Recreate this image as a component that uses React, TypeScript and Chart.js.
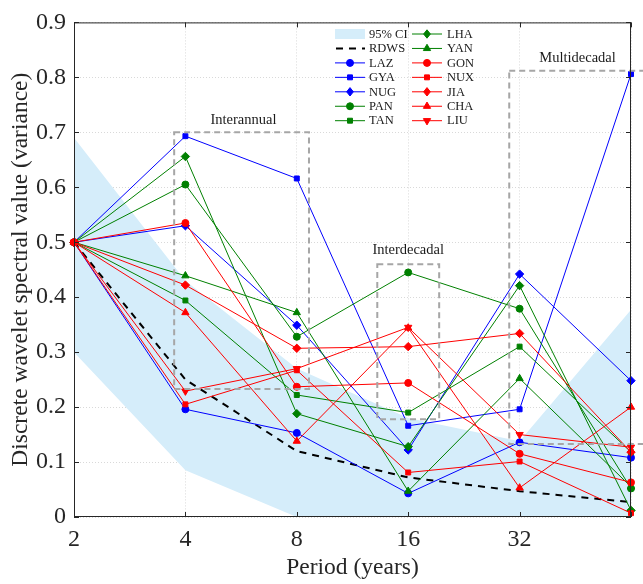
import React, { useEffect, useRef } from "react";
import { Chart, registerables } from "chart.js";

Chart.register(...registerables);

// ---------- data ----------
const periods = [2, 4, 8, 16, 32, 64];
const xTickValues = [2, 4, 8, 16, 32, 64];
const xTickLabels = ["2", "4", "8", "16", "32", ""];
const yTickValues = [0, 0.1, 0.2, 0.3, 0.4, 0.5, 0.6, 0.7, 0.8, 0.9];

const ciUpper = [0.69, 0.43, 0.27, 0.18, 0.138, 0.377];
const ciLower = [0.3, 0.085, 0.0, 0.0, 0.0, 0.0];
const rdws = [0.5, 0.25, 0.12, 0.072, 0.047, 0.027];

const laz = [0.5, 0.196, 0.153, 0.043, 0.136, 0.108];
const gya = [0.5, 0.693, 0.616, 0.166, 0.196, 0.806];
const nug = [0.5, 0.53, 0.349, 0.122, 0.442, 0.248];
const pan = [0.5, 0.605, 0.328, 0.445, 0.379, 0.052];
const tan = [0.5, 0.394, 0.222, 0.19, 0.31, 0.118];
const lha = [0.5, 0.656, 0.188, 0.128, 0.421, 0.012];
const yan = [0.5, 0.439, 0.372, 0.047, 0.252, 0.055];
const gon = [0.5, 0.535, 0.237, 0.244, 0.115, 0.063];
const nux = [0.5, 0.205, 0.267, 0.081, 0.101, 0.007];
const jia = [0.5, 0.422, 0.307, 0.31, 0.334, 0.118];
const cha = [0.5, 0.372, 0.138, 0.344, 0.053, 0.2];
const liu = [0.5, 0.229, 0.27, 0.345, 0.15, 0.127];

const stationNames = ["LAZ", "GYA", "NUG", "PAN", "TAN", "LHA", "YAN", "GON", "NUX", "JIA", "CHA", "LIU"];
const stationValues = [laz, gya, nug, pan, tan, lha, yan, gon, nux, jia, cha, liu];
const stationColors = [
  "#0000ff", "#0000ff", "#0000ff",
  "#008000", "#008000", "#008000", "#008000",
  "#ff0000", "#ff0000", "#ff0000", "#ff0000", "#ff0000",
];
const stationMarkers = [
  "circle", "rect", "rectRot",
  "circle", "rect", "rectRot", "triangle",
  "circle", "rect", "rectRot", "triangle", "triangleDown",
];

// annotation boxes (data coordinates)
const boxX0 = [3.73, 13.2, 30.0];
const boxX1 = [8.63, 19.4, 72.0];
const boxY0 = [0.233, 0.178, 0.133];
const boxY1 = [0.7, 0.46, 0.812];
const boxLabels = ["Interannual", "Interdecadal", "Multidecadal"];
const labelX = [5.74, 16.0, 45.9];
const labelY = [0.722, 0.486, 0.835];

const SERIF = '"Liberation Serif", "Times New Roman", Times, serif';
const CI_COLOR = "#d5edfa";
const AXIS_COLOR = "#262626";

function markerRadius(style: string) {
  if (style === "triangle" || style === "triangleDown") return 4.2;
  if (style === "rectRot") return 4.2;
  return 3.5;
}

function drawMarker(ctx: CanvasRenderingContext2D, style: string, x: number, y: number, color: string) {
  const r = markerRadius(style);
  ctx.save();
  ctx.fillStyle = color;
  ctx.strokeStyle = color;
  ctx.lineWidth = 1;
  ctx.setLineDash([]);
  ctx.beginPath();
  if (style === "circle") {
    ctx.arc(x, y, r, 0, Math.PI * 2);
  } else if (style === "rect") {
    const s = r * Math.SQRT1_2;
    ctx.rect(x - s, y - s, 2 * s, 2 * s);
  } else if (style === "rectRot") {
    ctx.moveTo(x, y - r);
    ctx.lineTo(x + r * 0.8, y);
    ctx.lineTo(x, y + r);
    ctx.lineTo(x - r * 0.8, y);
    ctx.closePath();
  } else if (style === "triangle" || style === "triangleDown") {
    const dir = style === "triangle" ? 1 : -1;
    let a = style === "triangle" ? 0 : Math.PI;
    for (let k = 0; k < 3; k++) {
      const px = x + Math.sin(a) * r;
      const py = y - Math.cos(a) * r;
      if (k === 0) ctx.moveTo(px, py);
      else ctx.lineTo(px, py);
      a += (2 * Math.PI) / 3;
    }
    ctx.closePath();
    void dir;
  }
  ctx.fill();
  ctx.stroke();
  ctx.restore();
}

const overlayPlugin = {
  id: "overlay",
  afterDatasetsDraw(chart: any) {
    const { ctx, chartArea, scales } = chart;
    const xs = scales.x;
    const ys = scales.y;
    const { left, right, top, bottom } = chartArea;

    // annotation boxes
    ctx.save();
    ctx.strokeStyle = "#a6a6a6";
    ctx.lineWidth = 2;
    ctx.setLineDash([6, 4]);
    for (let i = 0; i < boxX0.length; i++) {
      const x0 = xs.getPixelForValue(boxX0[i]);
      const x1 = xs.getPixelForValue(boxX1[i]);
      const y0 = ys.getPixelForValue(boxY0[i]);
      const y1 = ys.getPixelForValue(boxY1[i]);
      ctx.strokeRect(x0, y1, x1 - x0, y0 - y1);
    }
    ctx.restore();

    // annotation labels
    ctx.save();
    ctx.fillStyle = "#1a1a1a";
    ctx.font = `14.5px ${SERIF}`;
    ctx.textAlign = "center";
    ctx.textBaseline = "middle";
    for (let i = 0; i < boxLabels.length; i++) {
      ctx.fillText(boxLabels[i], xs.getPixelForValue(labelX[i]), ys.getPixelForValue(labelY[i]));
    }
    ctx.restore();

    // frame
    ctx.save();
    ctx.strokeStyle = AXIS_COLOR;
    ctx.lineWidth = 1;
    ctx.setLineDash([]);
    ctx.strokeRect(left + 0.5, top + 0.5, right - left - 1, bottom - top - 1);
    // inward tick marks
    const tl = 5;
    ctx.beginPath();
    for (const v of xTickValues) {
      const px = Math.round(xs.getPixelForValue(v)) + 0.5;
      ctx.moveTo(px, bottom);
      ctx.lineTo(px, bottom - tl);
      ctx.moveTo(px, top);
      ctx.lineTo(px, top + tl);
    }
    for (const v of yTickValues) {
      const py = Math.round(ys.getPixelForValue(v)) + 0.5;
      ctx.moveTo(left, py);
      ctx.lineTo(left + tl, py);
      ctx.moveTo(right, py);
      ctx.lineTo(right - tl, py);
    }
    ctx.stroke();
    ctx.restore();
  },
  afterDraw(chart: any) {
    const { ctx } = chart;
    const colX = [335, 412];
    const textX = [369, 447];
    const y0 = 34;
    const dy = 14.45;
    const entries: any[] = [
      { kind: "ci", label: "95% CI" },
      { kind: "dash", label: "RDWS" },
    ];
    for (let i = 0; i < stationNames.length; i++) {
      entries.push({ kind: "line", label: stationNames[i], color: stationColors[i], marker: stationMarkers[i] });
    }
    ctx.save();
    ctx.font = `12.5px ${SERIF}`;
    ctx.textBaseline = "middle";
    ctx.textAlign = "left";
    entries.forEach((e, idx) => {
      const col = idx < 7 ? 0 : 1;
      const row = idx % 7;
      const y = y0 + row * dy;
      const x = colX[col];
      if (e.kind === "ci") {
        ctx.fillStyle = CI_COLOR;
        ctx.fillRect(x, y - 5, 30, 10);
      } else if (e.kind === "dash") {
        ctx.save();
        ctx.strokeStyle = "#000";
        ctx.lineWidth = 2;
        ctx.setLineDash([7, 6]);
        ctx.beginPath();
        ctx.moveTo(x + 1, y);
        ctx.lineTo(x + 30, y);
        ctx.stroke();
        ctx.restore();
      } else {
        ctx.save();
        ctx.strokeStyle = e.color;
        ctx.lineWidth = 1;
        ctx.beginPath();
        ctx.moveTo(x, y);
        ctx.lineTo(x + 30, y);
        ctx.stroke();
        ctx.restore();
        drawMarker(ctx, e.marker, x + 15, y, e.color);
      }
      ctx.fillStyle = "#1a1a1a";
      ctx.fillText(e.label, textX[col], y + 0.5);
    });
    ctx.restore();
  },
};

export default function App() {
  const ref = useRef<HTMLCanvasElement>(null);

  useEffect(() => {
    if (!ref.current) return;
    const toPts = (vals: number[]) => periods.map((p, i) => ({ x: p, y: vals[i] }));

    const datasets: any[] = [
      {
        label: "95% CI upper",
        data: toPts(ciUpper),
        borderWidth: 0,
        borderColor: "rgba(0,0,0,0)",
        pointRadius: 0,
        backgroundColor: CI_COLOR,
        fill: "+1",
        tension: 0,
        order: 100,
      },
      {
        label: "95% CI lower",
        data: toPts(ciLower),
        borderWidth: 0,
        borderColor: "rgba(0,0,0,0)",
        pointRadius: 0,
        fill: false,
        tension: 0,
        order: 99,
      },
      {
        label: "RDWS",
        data: toPts(rdws),
        borderColor: "#000000",
        borderWidth: 2,
        borderDash: [7, 6],
        pointRadius: 0,
        fill: false,
        tension: 0,
        order: 50,
        clip: false,
      },
    ];

    stationNames.forEach((name, i) => {
      const style = stationMarkers[i];
      datasets.push({
        label: name,
        data: toPts(stationValues[i]),
        borderColor: stationColors[i],
        backgroundColor: stationColors[i],
        pointBackgroundColor: stationColors[i],
        pointBorderColor: stationColors[i],
        borderWidth: 1,
        pointBorderWidth: 1,
        pointRadius: markerRadius(style),
        pointStyle: style === "triangleDown" ? "triangle" : style,
        pointRotation: style === "triangleDown" ? 180 : 0,
        fill: false,
        tension: 0,
        order: 20 - i,
        clip: false,
      });
    });

    const chart = new Chart(ref.current, {
      type: "line",
      data: { datasets },
      options: {
        animation: false,
        responsive: false,
        devicePixelRatio: 1,
        parsing: true,
        layout: { padding: { top: 16, right: 12, left: 0, bottom: 0 } },
        plugins: {
          legend: { display: false },
          tooltip: { enabled: false },
        },
        scales: {
          x: {
            type: "logarithmic",
            min: 2,
            max: 64,
            afterBuildTicks: (s: any) => {
              s.ticks = xTickValues.map((v) => ({ value: v }));
            },
            afterFit: (s: any) => {
              s.height = 67;
            },
            ticks: {
              autoSkip: false,
              maxRotation: 0,
              padding: 8,
              color: AXIS_COLOR,
              font: { family: SERIF, size: 24 },
              callback: (_v: any, i: number) => xTickLabels[i],
            },
            grid: { color: "#d9d9d9", lineWidth: 1, drawTicks: false },
            border: { display: false, dash: [1, 2] },
            title: {
              display: true,
              text: "Period (years)",
              color: AXIS_COLOR,
              font: { family: SERIF, size: 23.5 },
              padding: { top: 0, bottom: 2 },
            },
          },
          y: {
            type: "linear",
            min: 0,
            max: 0.9,
            afterBuildTicks: (s: any) => {
              s.ticks = yTickValues.map((v) => ({ value: v }));
            },
            afterFit: (s: any) => {
              s.width = 74;
            },
            ticks: {
              padding: 8,
              color: AXIS_COLOR,
              font: { family: SERIF, size: 24 },
              callback: (v: any) => String(Number(Number(v).toFixed(1))),
            },
            grid: { color: "#d9d9d9", lineWidth: 1, drawTicks: false },
            border: { display: false, dash: [1, 2] },
            title: {
              display: true,
              text: "Discrete wavelet spectral value (variance)",
              color: AXIS_COLOR,
              font: { family: SERIF, size: 23.5 },
              padding: { top: 7, bottom: 0 },
            },
          },
        },
      } as any,
      plugins: [overlayPlugin],
    } as any);

    return () => chart.destroy();
  }, []);

  return (
    <div style={{ position: "absolute", left: 0, top: 0, width: 643, height: 584, background: "#ffffff" }}>
      <canvas ref={ref} width={643} height={584} style={{ display: "block", width: 643, height: 584 }} />
    </div>
  );
}
